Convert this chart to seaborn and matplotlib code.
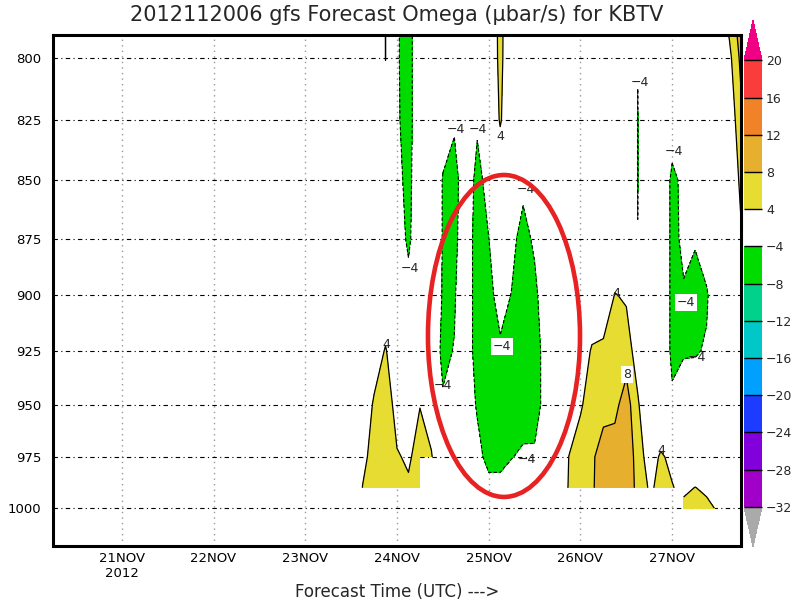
import numpy as np
import pandas as pd
import matplotlib
matplotlib.use("Agg")
import matplotlib.pyplot as plt
import matplotlib.dates as mdates
from matplotlib.ticker import NullLocator, FixedLocator, FixedFormatter
from matplotlib.patches import Ellipse
import seaborn as sns

sns.set_style("white")
plt.rcParams['font.family'] = ['DejaVu Sans']
plt.rcParams['lines.dashed_pattern'] = [3.0, 2.0]

# 3-hourly forecast times of the 2012112006 run
times = pd.date_range("2012-11-20 06:00", periods=61, freq="3h")
levels_hpa = [790, 800, 825, 850, 875, 900, 925, 950, 975, 990, 1000]
nan = np.nan

# omega in microbar/s, one list per pressure level, 61 values (one per time)
w790 = [0, 0, 0, 0, 0, 0, 0, 0, 0, 0,
        0, 0, 0, 0, 0, 0, 0, 0, 0, 0,
        0, 0, 0, 0, 0, 0, 0, 0, 0, 4.05,
        -3.5, -6, 0, 0, 0, 0, 0, 0, 0, 5.3,
        0, 0, 0, 0, 0, 0, 0, 0, 0, 0,
        0, 0, 0, 0, 0, 0, 0, 0, 0, 4.5,
        10]
w800 = [0, 0, 0, 0, 0, 0, 0, 0, 0, 0,
        0, 0, 0, 0, 0, 0, 0, 0, 0, 0,
        0, 0, 0, 0, 0, 0, 0, 0, 0, 4.02,
        -3.5, -6, 0, 0, 0, 0, 0, 0, 0, 5.2,
        0, 0, 0, 0, 0, 0, 0, 0, 0, 0,
        0, -3.9, 0, 0, 0, 0, 0, 0, 0, 3,
        9]
w825 = [0, 0, 0, 0, 0, 0, 0, 0, 0, 0,
        0, 0, 0, 0, 0, 0, 0, 0, 0, 0,
        0, 0, 0, 0, 0, 0, 0, 0, 0, 3.5,
        -3.3, -6, 0, 0, -2.5, -3.1, 0, -3.1, -1, 4.5,
        0, 0, 0, 0, 0, 0, 0, 0, 0, 0,
        0, -4.1, 0, 0, -1.5, 0, 0, 0, 0, 1,
        7]
w850 = [0, 0, 0, 0, 0, 0, 0, 0, 0, 0,
        0, 0, 0, 0, 0, 0, 0, 0, 0, 0,
        0, 0, 0, 0, 0, 0, 0, 0, 0, 0,
        -2.5, -5.5, 0, -1, -4.2, -6.3, 0, -5.8, -1.9, 0,
        0, -2.5, -1, 0, 0, 0, 0, 0, 0, 0,
        0, -4.1, 0, 0, -5, -3, 0, 0, 0, 0,
        5]
w875 = [0, 0, 0, 0, 0, 0, 0, 0, 0, 0,
        0, 0, 0, 0, 0, 0, 0, 0, 0, 0,
        0, 0, 0, 0, 0, 0, 0, 0, 0, 0,
        -1, -5, 0, -1, -4.2, -5.6, 0, -6.8, -4.05, -1.5,
        -2.5, -6, -3, 0, 0, 0, 0, 0, 0, 0,
        0, -3.95, 0, 0, -5, -3.3, -3.5, -1, 0, 0,
        3.5]
w900 = [0, 0, 0, 0, 0, 0, 0, 0, 0, 0,
        0, 0, 0, 0, 0, 0, 0, 0, 0, 0,
        0, 0, 0, 0, 0, 0, 0, 0, 0, 2,
        0, -2, 0, -1, -4.3, -4.5, 0, -6.8, -5.5, -2,
        -4.2, -7.8, -5.5, 0, 0, 0, 0, 0, 0.5, 4.2,
        3.5, 0, 0, 0, -5, -4.3, -6, -4.6, 0, 0,
        0]
w925 = [0, 0, 0, 0, 0, 0, 0, 0, 0, 0,
        0, 0, 0, 0, 0, 0, 0, 0, 0, 0,
        0, 0, 0, 0, 0, 0, 0, 0, 2.5, 4.2,
        2, 0, 0, -1, -5, -3.8, 0, -6.8, -7.8, -4.8,
        -6.5, -7.8, -6.8, -1.5, 0, 0, 1, 4.5, 5, 6,
        6, 2, 0, 0, -5, -4.5, -4.5, -3.5, 0, 0,
        0]
w950 = [0, 0, 0, 0, 0, 0, 0, 0, 0, 0,
        0, 0, 0, 0, 0, 0, 0, 0, 0, 0,
        0, 0, 0, 0, 0, 0, 0, 2, 4.35, 6.25,
        2.5, 1.5, 3.9, 2, -3.5, -1, 0, -4.7, -7.8, -7,
        -7, -7, -6.8, -1.5, 0, 1, 3.5, 6, 6.5, 6.9,
        10, 4.5, 0, 0, -3.2, -1, -0.5, 0, 0, 0,
        0]
w975 = [0, 0, 0, 0, 0, 0, 0, 0, 0, 0,
        0, 0, 0, 0, 0, 0, 0, 0, 0, 0,
        0, 0, 0, 0, 0, 0, 0, 3, 5.4, 7,
        4.3, 3.5, 5.4, 4.3, 0, 0, 0, -2, -6, -6,
        -4.2, -3, -3, -0.5, 0, 4.1, 6, 7.33, 10, 10,
        11, 6.2, 2, 4.5, 3.1, 0, 0, 0, 0, 0,
        0]
w990 = [0, 0, 0, 0, 0, 0, 0, 0, 0, 0,
        0, 0, 0, 0, 0, 0, 0, 0, 0, 0,
        0, 0, 0, 0, 0, 0, 0, 4.1, 6, 7,
        5, 4.5, 5.5, nan, 0, 0, 0, -1, -2, -2,
        -1, -1, -1, 0, 0, 4.4, 6.5, 7.5, 10, 10,
        11, 6.7, 3.6, 4.6, 4.2, 3, 4.1, 3.2, 1.5, 0,
        0]
w1000 = [nan, nan, nan, nan, nan, nan, nan, nan, nan, nan,
         nan, nan, nan, nan, nan, nan, nan, nan, nan, nan,
         nan, nan, nan, nan, nan, nan, nan, nan, nan, nan,
         nan, nan, nan, nan, nan, nan, nan, nan, nan, nan,
         nan, nan, nan, nan, nan, nan, nan, nan, nan, nan,
         nan, nan, nan, nan, nan, 5.2, 6, 5, 3.5, nan,
         nan]

shade_levels = [-32, -28, -24, -20, -16, -12, -8, -4, 4, 8, 12, 16, 20]
# GrADS rainbow: under, 12 bands, over ; the -4..4 band is left unfilled
shade_colors = ['#aaaaaa', '#a000c8', '#8200dc', '#1e3cff', '#00a0ff', '#00c8c8',
                '#00d28c', '#00dc00', (1, 1, 1, 0), '#e6dc32', '#e6af2d',
                '#f08228', '#fa3c3c', '#f00082']

day_ticks = pd.date_range("2012-11-21", "2012-11-27", freq="D")
p_ticks = [800, 825, 850, 875, 900, 925, 950, 975, 1000]

# contour labels: hours after 2012112006, pressure, text, boxed
lab_hours = [93.3, 105.4, 111.1, 116.9, 123.7, 117.4, 102.0, 123.9, 87.1,
             147.5, 150.1, 159.2, 162.4, 153.5, 165.5, 168.4]
lab_press = [888, 829, 829, 832, 854, 923, 941, 976, 922,
             899, 936, 972, 838, 810, 903, 928]
lab_text = ['-4', '-4', '-4', '4', '-4', '-4', '-4', '-4', '4',
            '4', '8', '4', '-4', '-4', '-4', '-4']
lab_boxed = [False, False, False, False, False, True, False, False, False,
             False, True, False, False, False, True, False]

omega = np.ma.masked_invalid(np.array([w790, w800, w825, w850, w875, w900, w925,
                                       w950, w975, w990, w1000]))
tnum = mdates.date2num(times)
pres = np.array(levels_hpa, dtype=float)

fig = plt.figure(figsize=(8, 6), dpi=100)
ax = fig.add_axes([0.06625, 0.09, 0.86, 0.8517])

cf = ax.contourf(tnum, pres, omega, levels=shade_levels, colors=shade_colors,
                 extend='both', corner_mask=False, zorder=1)
neg = [l for l in shade_levels if l < 0]
pos = [l for l in shade_levels if l > 0]
ax.contour(tnum, pres, omega, levels=neg, colors='black', linewidths=0.8,
           linestyles='dashed', corner_mask=False, zorder=2)
ax.contour(tnum, pres, omega, levels=pos, colors='black', linewidths=0.9,
           linestyles='solid', corner_mask=False, zorder=2)

for h, p, s, b in zip(lab_hours, lab_press, lab_text, lab_boxed):
    txt = s.replace('-', '\u2212')
    kw = dict(boxstyle='square,pad=0.15', fc='white', ec='none') if b else None
    ax.text(tnum[0] + h / 24.0, p, txt, fontsize=9, ha='center', va='center',
            bbox=kw, zorder=4)

ax.set_yscale('log')
ax.set_ylim(1019, 791)
ax.set_xlim(tnum[0], tnum[-1])
ax.yaxis.set_major_locator(FixedLocator(p_ticks))
ax.yaxis.set_major_formatter(FixedFormatter([str(p) for p in p_ticks]))
ax.yaxis.set_minor_locator(NullLocator())

xt = mdates.date2num(day_ticks)
xl = [d.strftime('%d%b').upper() for d in day_ticks]
xl[0] = xl[0] + '\n2012'
ax.set_xticks(xt)
ax.set_xticklabels(xl)
ax.tick_params(axis='both', direction='out', length=3, width=1, colors='black',
               labelsize=9.5)
ax.tick_params(axis='x', pad=1.5)
ax.tick_params(axis='y', pad=5.5)

ax.set_axisbelow(True)
ax.yaxis.grid(True, color='black', linewidth=0.8, linestyle=(0, (4, 3, 1, 3)))
ax.xaxis.grid(True, color='#999999', linewidth=1.0, linestyle=(0, (1, 3)))
for sp in ax.spines.values():
    sp.set_visible(True)
    sp.set_color('black')
    sp.set_linewidth(2.2)

ring = Ellipse((0.6555, 0.411), 0.221, 0.630, transform=ax.transAxes,
               fill=False, ec='#e62222', lw=3.3, zorder=5)
ax.add_patch(ring)

cax = fig.add_axes([0.93, 0.0883, 0.0225, 0.878])
cb = fig.colorbar(cf, cax=cax, ticks=shade_levels, drawedges=True,
                  extendfrac=0.09)
cb.outline.set_visible(False)
cb.dividers.set_color('black')
cb.dividers.set_linewidth(1.0)
cb.ax.tick_params(length=0, pad=3, labelsize=9)
cb.ax.set_yticklabels([str(l).replace('-', '\u2212') for l in shade_levels])

fig.text(0.496, 0.975, '2012112006 gfs Forecast Omega (\u03bcbar/s) for KBTV',
         ha='center', va='center', fontsize=15)
fig.text(0.497, 0.014, 'Forecast Time (UTC) --->', ha='center', va='center',
         fontsize=12)

fig.savefig('out.png', dpi=100)
